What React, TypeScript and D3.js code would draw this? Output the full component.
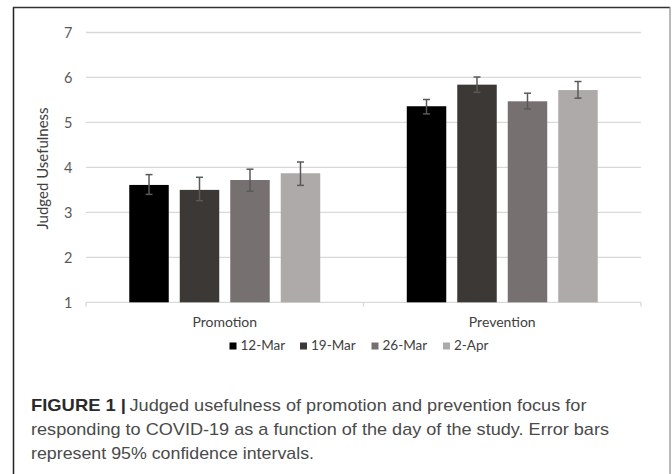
import React from "react";
import * as d3 from "d3";

const categories = ["Promotion", "Prevention"];
const dates = ["12-Mar", "19-Mar", "26-Mar", "2-Apr"];
const promotion = [3.61, 3.5, 3.72, 3.87];
const prevention = [5.36, 5.84, 5.47, 5.72];
const promotionLow = [3.4, 3.26, 3.47, 3.6];
const promotionHigh = [3.84, 3.78, 3.96, 4.12];
const preventionLow = [5.19, 5.67, 5.3, 5.54];
const preventionHigh = [5.51, 6.01, 5.65, 5.91];
const yTicks = [1, 2, 3, 4, 5, 6, 7];
const colors = ["#000000", "#3b3836", "#767170", "#aeaaa9"];
const captionBold = "FIGURE 1 |";
const captionLines = [
  "Judged usefulness of promotion and prevention focus for",
  "responding to COVID-19 as a function of the day of the study. Error bars",
  "represent 95% confidence intervals.",
];

const W = 672;
const H = 474;

export default function App() {
  const values = [promotion, prevention];
  const lows = [promotionLow, preventionLow];
  const highs = [promotionHigh, preventionHigh];

  const x0 = d3.scaleBand<string>().domain(categories).range([86, 641]).padding(0);
  const x1 = d3
    .scaleBand<string>()
    .domain(dates)
    .range([0, x0.bandwidth()])
    .paddingInner(0.218)
    .paddingOuter(0.857);
  const y = d3.scaleLinear().domain([1, 7]).range([302.3, 32.5]);

  const chartFont = "Lato, 'Open Sans', sans-serif";
  const capFont = "'Liberation Sans', Arial, sans-serif";

  const legendX = [229.5, 300, 371.5, 443];

  return (
    <svg
      width={W}
      height={H}
      style={{ position: "absolute", left: 0, top: 0, background: "#fff" }}
    >
      <rect x={0} y={0} width={W} height={H} fill="#fff" />
      {/* frame */}
      <line x1={13.5} y1={7} x2={13.5} y2={H} stroke="#222" strokeWidth={1.5} />
      <line x1={13} y1={7.5} x2={670} y2={7.5} stroke="#333" strokeWidth={1.5} />
      <line x1={670} y1={7} x2={670} y2={H} stroke="#8a8a8a" strokeWidth={1.2} />

      {/* gridlines */}
      {yTicks.map((t) => (
        <line
          key={t}
          x1={86}
          x2={641}
          y1={y(t)}
          y2={y(t)}
          stroke="#d9d9d9"
          strokeWidth={1.3}
        />
      ))}
      {/* axis ticks */}
      {[86, 86 + x0.bandwidth(), 641].map((xx, i) => (
        <line key={i} x1={xx} x2={xx} y1={y(1)} y2={y(1) + 4.5} stroke="#d9d9d9" strokeWidth={1.3} />
      ))}

      {/* y tick labels */}
      {yTicks.map((t) => (
        <text
          key={t}
          x={72.5}
          y={y(t)}
          dy="0.36em"
          textAnchor="end"
          fontFamily={chartFont}
          fontSize={14.5}
          fill="#595959"
        >
          {t}
        </text>
      ))}

      {/* y axis title */}
      <text
        transform={`translate(48,168.5) rotate(-90)`}
        textAnchor="middle"
        fontFamily={chartFont}
        fontSize={15}
        fill="#404040"
      >
        Judged Usefulness
      </text>

      {/* bars */}
      {categories.map((c, ci) => (
        <g key={c} transform={`translate(${x0(c)},0)`}>
          {dates.map((d, di) => {
            const bx = x1(d)!;
            const bw = x1.bandwidth();
            const v = values[ci][di];
            const cx = bx + bw / 2;
            return (
              <g key={d}>
                <rect x={bx} y={y(v)} width={bw} height={y(1) - y(v)} fill={colors[di]} />
                <line x1={cx} x2={cx} y1={y(highs[ci][di])} y2={y(lows[ci][di])} stroke="#595959" strokeWidth={1.5} />
                <line x1={cx - 3.5} x2={cx + 3.5} y1={y(highs[ci][di])} y2={y(highs[ci][di])} stroke="#595959" strokeWidth={1.5} />
                <line x1={cx - 3.5} x2={cx + 3.5} y1={y(lows[ci][di])} y2={y(lows[ci][di])} stroke="#595959" strokeWidth={1.5} />
              </g>
            );
          })}
        </g>
      ))}

      {/* category labels */}
      {categories.map((c) => (
        <text
          key={c}
          x={x0(c)! + x0.bandwidth() / 2}
          y={327}
          textAnchor="middle"
          fontFamily={chartFont}
          fontSize={14}
          fill="#404040"
        >
          {c}
        </text>
      ))}

      {/* legend */}
      {dates.map((d, i) => (
        <g key={d}>
          <rect x={legendX[i]} y={342.5} width={7} height={7} fill={colors[i]} />
          <text x={legendX[i] + 11} y={350} fontFamily={chartFont} fontSize={13.5} fill="#404040">
            {d}
          </text>
        </g>
      ))}

      {/* caption */}
      <g fontFamily={capFont} fontSize={17} fill="#4a4a4a">
        <text x={31} y={411} fontWeight="bold" fill="#2a2a2a" textLength={95} lengthAdjust="spacingAndGlyphs">
          {captionBold}
        </text>
        <text x={129.5} y={411} textLength={457} lengthAdjust="spacingAndGlyphs">
          {captionLines[0]}
        </text>
        <text x={31} y={435} textLength={578} lengthAdjust="spacingAndGlyphs">
          {captionLines[1]}
        </text>
        <text x={31} y={459} textLength={283} lengthAdjust="spacingAndGlyphs">
          {captionLines[2]}
        </text>
      </g>
    </svg>
  );
}
